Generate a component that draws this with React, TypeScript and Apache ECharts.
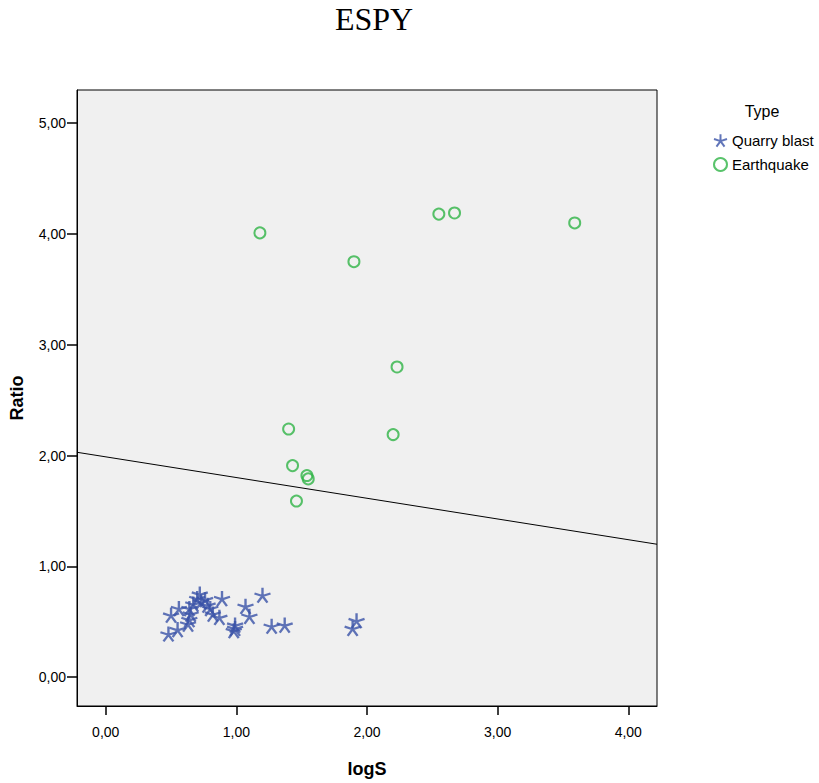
import React, { useEffect, useRef } from 'react';
import * as echarts from 'echarts';

const chartTitle = 'ESPY';
const xName = 'logS';
const yName = 'Ratio';
const legendTitle = 'Type';
const seriesNames = ['Quarry blast', 'Earthquake'];
const xTicks = [0, 1, 2, 3, 4];
const yTicks = [0, 1, 2, 3, 4, 5];

const quarryBlast: number[][] = [
  [0.48, 0.39], [0.55, 0.43], [0.50, 0.56], [0.56, 0.62], [0.63, 0.48],
  [0.64, 0.52], [0.65, 0.57], [0.64, 0.62], [0.67, 0.66], [0.70, 0.71],
  [0.72, 0.75], [0.73, 0.68], [0.76, 0.70], [0.78, 0.65], [0.80, 0.62],
  [0.82, 0.57], [0.89, 0.71], [0.87, 0.54], [0.99, 0.47], [0.98, 0.42],
  [0.99, 0.44], [1.07, 0.64], [1.10, 0.55], [1.20, 0.74], [1.27, 0.46],
  [1.37, 0.47], [1.92, 0.51], [1.89, 0.44],
];

const earthquake: number[][] = [
  [1.18, 4.01], [1.90, 3.75], [2.55, 4.18], [2.67, 4.19], [3.59, 4.10],
  [2.23, 2.80], [1.40, 2.24], [2.20, 2.19], [1.43, 1.91], [1.54, 1.82],
  [1.55, 1.79], [1.46, 1.59],
];

const fitLine: number[][] = [
  [-0.22, 2.03],
  [4.22, 1.2],
];

const xRange = [-0.22, 4.22];
const yRange = [-0.26, 5.3];

const starPath =
  'path://M0,0L0,-8M0,0L7.6,-2.47M0,0L-7.6,-2.47M0,0L4.7,6.47M0,0L-4.7,6.47';

const fmt = (v: number) => v.toFixed(2).replace('.', ',');

export default function App() {
  const ref = useRef<HTMLDivElement>(null);
  useEffect(() => {
    if (!ref.current) return;
    const chart = echarts.init(ref.current, undefined, { renderer: 'svg' });
    const sans = 'Liberation Sans, Arial, sans-serif';
    chart.setOption({
      animation: false,
      backgroundColor: '#ffffff',
      grid: {
        left: 77,
        right: 162,
        top: 90,
        bottom: 73,
        show: true,
        backgroundColor: '#F0F0F0',
        borderColor: '#000',
        borderWidth: 1,
        containLabel: false,
      },
      graphic: [
        {
          type: 'text',
          x: 374,
          y: 19,
          style: {
            text: chartTitle,
            align: 'center',
            verticalAlign: 'middle',
            font: '32px "Liberation Serif", "Times New Roman", serif',
            fill: '#000',
          },
        },
        {
          type: 'text',
          x: 762,
          y: 111,
          style: {
            text: legendTitle,
            align: 'center',
            verticalAlign: 'middle',
            font: '16px "Liberation Sans", Arial, sans-serif',
            fill: '#000',
          },
        },
      ],
      legend: {
        orient: 'vertical',
        left: 708,
        top: 128,
        itemWidth: 13,
        itemHeight: 13,
        itemGap: 9,
        data: seriesNames,
        textStyle: { fontSize: 15, fontFamily: sans, color: '#000' },
      },
      xAxis: {
        type: 'value',
        min: xRange[0],
        max: xRange[1],
        name: xName,
        nameLocation: 'middle',
        nameGap: 54,
        nameTextStyle: { fontSize: 18, fontWeight: 'bold', fontFamily: sans, color: '#000' },
        axisLine: { show: true, onZero: false, lineStyle: { color: '#000', width: 1 } },
        axisTick: { show: true, length: 9, customValues: xTicks, lineStyle: { color: '#000', width: 1.5 } },
        axisLabel: {
          customValues: xTicks,
          formatter: (v: number) => fmt(v),
          fontSize: 14,
          fontFamily: sans,
          color: '#000',
          margin: 19,
        },
        splitLine: { show: false },
      },
      yAxis: {
        type: 'value',
        min: yRange[0],
        max: yRange[1],
        name: yName,
        nameLocation: 'middle',
        nameGap: 51,
        nameTextStyle: { fontSize: 18, fontWeight: 'bold', fontFamily: sans, color: '#000' },
        axisLine: { show: true, onZero: false, lineStyle: { color: '#000', width: 1 } },
        axisTick: { show: true, length: 10, customValues: yTicks, lineStyle: { color: '#000', width: 1.5 } },
        axisLabel: {
          customValues: yTicks,
          formatter: (v: number) => fmt(v),
          fontSize: 14,
          fontFamily: sans,
          color: '#000',
          margin: 11,
        },
        splitLine: { show: false },
      },
      series: [
        {
          name: 'fit',
          type: 'line',
          data: fitLine,
          symbol: 'none',
          silent: true,
          lineStyle: { color: '#000', width: 1 },
          z: 1,
        },
        {
          name: seriesNames[0],
          type: 'scatter',
          data: quarryBlast,
          symbol: starPath,
          symbolSize: [16, 15],
          itemStyle: { color: 'rgba(0,0,0,0)', borderColor: '#3A53A8', borderWidth: 2.3 },
          z: 3,
        },
        {
          name: seriesNames[1],
          type: 'scatter',
          data: earthquake,
          symbol: 'circle',
          symbolSize: 11,
          itemStyle: { color: 'rgba(0,0,0,0)', borderColor: '#2FB446', borderWidth: 2 },
          z: 3,
        },
      ],
    });
    return () => chart.dispose();
  }, []);
  return <div ref={ref} style={{ width: 819, height: 783, position: 'absolute', left: 0, top: 0 }} />;
}
